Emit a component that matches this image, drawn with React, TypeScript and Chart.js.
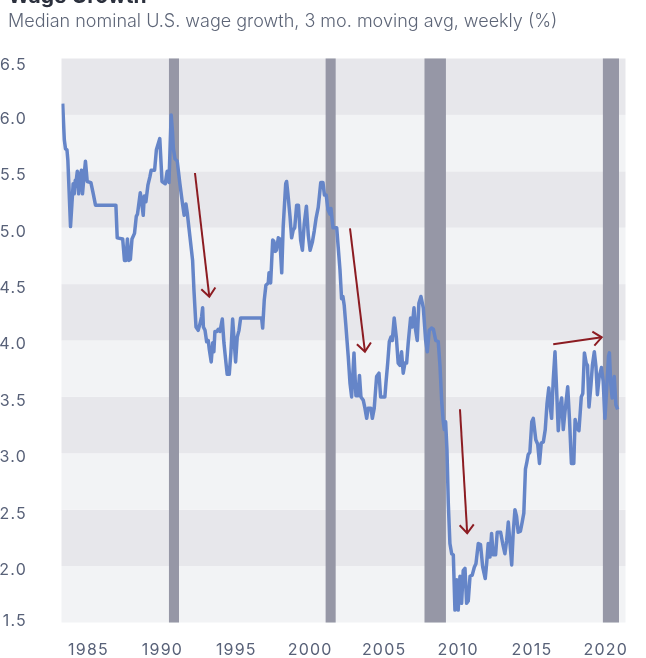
import React, { useEffect, useRef } from "react";
import { Chart, registerables } from "chart.js";

Chart.register(...registerables);

// ---------- data ----------
const years = [
  1983.25, 1983.36, 1983.44, 1983.54, 1983.6, 1983.78, 1983.96, 1984.03, 1984.1, 1984.17, 1984.24, 1984.33,
  1984.42, 1984.52, 1984.59, 1984.69, 1984.79, 1984.91, 1985.16, 1985.32, 1985.47, 1986.85, 1986.94, 1987.31,
  1987.43, 1987.53, 1987.63, 1987.73, 1987.83, 1987.94, 1988.11, 1988.23, 1988.31, 1988.5, 1988.6, 1988.7,
  1988.77, 1988.88, 1989.02, 1989.15, 1989.24, 1989.47, 1989.59, 1989.82, 1989.97, 1990.19, 1990.32, 1990.44,
  1990.59, 1990.68, 1990.74, 1990.85, 1991.0, 1991.18, 1991.37, 1991.47, 1991.59, 1991.68, 1991.86, 1992.04,
  1992.13, 1992.27, 1992.42, 1992.54, 1992.65, 1992.72, 1992.77, 1992.88, 1992.99, 1993.1, 1993.17, 1993.3,
  1993.4, 1993.48, 1993.55, 1993.69, 1993.78, 1993.89, 1994.05, 1994.16, 1994.3, 1994.38, 1994.52, 1994.63,
  1994.75, 1994.86, 1994.95, 1995.06, 1995.18, 1995.29, 1996.71, 1996.78, 1996.89, 1997.0, 1997.16, 1997.21,
  1997.32, 1997.46, 1997.54, 1997.63, 1997.71, 1997.84, 1997.94, 1998.07, 1998.17, 1998.34, 1998.4, 1998.49,
  1998.63, 1998.74, 1998.85, 1998.95, 1999.08, 1999.2, 1999.35, 1999.47, 1999.59, 1999.74, 1999.87, 1999.99,
  2000.14, 2000.27, 2000.39, 2000.54, 2000.71, 2000.86, 2000.96, 2001.08, 2001.2, 2001.33, 2001.4, 2001.54,
  2001.79, 2001.89, 2002.01, 2002.12, 2002.21, 2002.3, 2002.4, 2002.57, 2002.69, 2002.8, 2002.96, 2003.09,
  2003.23, 2003.33, 2003.43, 2003.59, 2003.7, 2003.82, 2003.92, 2004.11, 2004.2, 2004.33, 2004.49, 2004.65,
  2004.76, 2005.05, 2005.12, 2005.24, 2005.35, 2005.46, 2005.55, 2005.68, 2005.83, 2005.95, 2006.07, 2006.18,
  2006.29, 2006.41, 2006.52, 2006.63, 2006.79, 2006.9, 2007.02, 2007.13, 2007.24, 2007.35, 2007.49, 2007.65,
  2007.81, 2007.92, 2008.05, 2008.21, 2008.33, 2008.49, 2008.66, 2008.78, 2008.89, 2009.0, 2009.07, 2009.16,
  2009.25, 2009.34, 2009.45, 2009.57, 2009.68, 2009.79, 2009.91, 2010.01, 2010.13, 2010.24, 2010.35, 2010.47,
  2010.58, 2010.69, 2010.81, 2010.96, 2011.1, 2011.21, 2011.37, 2011.52, 2011.67, 2011.84, 2011.94, 2012.04,
  2012.16, 2012.27, 2012.38, 2012.54, 2012.65, 2012.88, 2013.02, 2013.17, 2013.29, 2013.4, 2013.56, 2013.63,
  2013.73, 2013.85, 2013.96, 2014.07, 2014.22, 2014.34, 2014.45, 2014.56, 2014.64, 2014.75, 2014.86, 2014.99,
  2015.09, 2015.26, 2015.39, 2015.51, 2015.63, 2015.77, 2015.9, 2016.02, 2016.14, 2016.25, 2016.33, 2016.44,
  2016.56, 2016.67, 2016.78, 2016.89, 2017.01, 2017.12, 2017.23, 2017.42, 2017.54, 2017.67, 2017.83, 2017.92,
  2018.05, 2018.18, 2018.34, 2018.44, 2018.55, 2018.67, 2018.76, 2018.86, 2018.99, 2019.09, 2019.22, 2019.33,
  2019.43, 2019.55, 2019.7, 2019.82, 2019.94, 2020.05, 2020.18, 2020.24, 2020.33, 2020.43, 2020.57, 2020.68,
  2020.8,
];

const wageGrowth = [
  6.1, 5.78, 5.7, 5.69, 5.6, 5.01, 5.39, 5.3, 5.42, 5.42, 5.5, 5.3,
  5.45, 5.51, 5.3, 5.45, 5.59, 5.41, 5.4, 5.3, 5.2, 5.2, 4.91, 4.9,
  4.71, 4.71, 4.9, 4.71, 4.72, 4.9, 4.95, 5.1, 5.12, 5.31, 5.22, 5.11,
  5.28, 5.23, 5.38, 5.45, 5.51, 5.51, 5.69, 5.79, 5.41, 5.39, 5.5, 5.4,
  6.0, 5.85, 5.7, 5.61, 5.59, 5.39, 5.2, 5.11, 5.21, 5.13, 4.92, 4.71,
  4.45, 4.12, 4.09, 4.15, 4.21, 4.29, 4.12, 4.09, 3.99, 4.0, 3.92, 3.81,
  3.98, 3.9, 4.08, 4.08, 4.1, 4.08, 4.19, 3.98, 3.8, 3.7, 3.7, 3.89,
  4.19, 3.98, 3.81, 4.03, 4.09, 4.2, 4.2, 4.11, 4.36, 4.49, 4.51, 4.6,
  4.51, 4.89, 4.88, 4.79, 4.8, 4.91, 4.9, 4.6, 5.01, 5.39, 5.41, 5.3,
  5.1, 4.91, 4.98, 5.0, 5.2, 5.2, 4.89, 4.8, 5.03, 5.19, 4.93, 4.8,
  4.87, 4.97, 5.08, 5.18, 5.4, 5.4, 5.29, 5.29, 5.16, 5.12, 5.17, 5.0,
  5.0, 4.83, 4.63, 4.37, 4.39, 4.31, 4.15, 3.86, 3.62, 3.5, 3.89, 3.51,
  3.51, 3.69, 3.5, 3.47, 3.4, 3.31, 3.4, 3.4, 3.31, 3.4, 3.68, 3.71,
  3.5, 3.5, 3.62, 3.8, 3.99, 4.03, 4.0, 4.2, 4.02, 3.8, 3.78, 3.9,
  3.71, 3.8, 3.8, 3.98, 4.2, 4.12, 4.29, 4.09, 4.0, 4.33, 4.39, 4.29,
  4.0, 3.9, 4.09, 4.11, 4.1, 4.0, 3.99, 3.77, 3.47, 3.28, 3.21, 3.28,
  3.03, 2.56, 2.2, 2.11, 2.1, 1.61, 1.88, 1.61, 1.91, 1.67, 1.96, 1.98,
  1.67, 1.69, 1.91, 1.92, 1.99, 2.02, 2.2, 2.19, 1.99, 1.89, 2.03, 2.2,
  2.08, 2.29, 2.1, 2.1, 2.3, 2.3, 2.2, 2.11, 2.23, 2.39, 2.13, 2.01,
  2.29, 2.5, 2.44, 2.3, 2.31, 2.39, 2.47, 2.86, 2.91, 2.99, 3.01, 3.28,
  3.31, 3.12, 3.08, 2.91, 3.09, 3.1, 3.21, 3.44, 3.58, 3.4, 3.31, 3.65,
  3.9, 3.56, 3.2, 3.41, 3.49, 3.21, 3.36, 3.59, 3.3, 2.91, 2.91, 3.3,
  3.22, 3.2, 3.5, 3.53, 3.89, 3.8, 3.78, 3.41, 3.6, 3.78, 3.9, 3.77,
  3.52, 3.68, 3.76, 3.64, 3.31, 3.56, 3.86, 3.89, 3.62, 3.49, 3.68, 3.43,
  3.39,
];

const recessionStart = [1990.44, 2001.04, 2007.73, 2019.8];
const recessionEnd = [1991.12, 2001.72, 2009.18, 2020.89];

const xTickYears = [1985, 1990, 1995, 2000, 2005, 2010, 2015, 2020];
const yTickValues = [1.5, 2.0, 2.5, 3.0, 3.5, 4.0, 4.5, 5.0, 5.5, 6.0, 6.5];
const yTickLabels = ["1.5", "2.0", "2.5", "3.0", "3.5", "4.0", "4.5", "5.0", "5.5", "6.0", "6.5"];

const arrowStartYear = [1992.2, 2002.69, 2010.13, 2016.44];
const arrowStartValue = [5.485, 4.995, 3.39, 3.966];
const arrowEndYear = [1993.17, 2003.7, 2010.62, 2019.72];
const arrowEndValue = [4.388, 3.901, 2.291, 4.028];

const X_MIN = 1983.17;
const X_MAX = 2021.33;

// ---------- styles ----------
const BAND_DARK = "#e7e7eb";
const BAND_LIGHT = "#f2f3f5";
const RECESSION = "#9697a6";
const LINE = "#6585c8";
const ARROW = "#8c1c22";
const TICK = "#586178";
const FONT = "Inter, 'Noto Sans', sans-serif";

const decorPlugin = {
  id: "decor",
  beforeDraw(chart: any) {
    chart.ctx.letterSpacing = "1.2px";
  },
  beforeDatasetsDraw(chart: any) {
    const { ctx, chartArea: a, scales } = chart;
    const x = scales.x;
    const y = scales.y;
    ctx.save();
    for (let i = 0; i < yTickValues.length - 1; i++) {
      const top = y.getPixelForValue(yTickValues[i + 1]);
      const bot = y.getPixelForValue(yTickValues[i]);
      ctx.fillStyle = i % 2 === 0 ? BAND_LIGHT : BAND_DARK;
      ctx.fillRect(a.left, top, a.right - a.left, bot - top);
    }
    ctx.fillStyle = RECESSION;
    for (let i = 0; i < recessionStart.length; i++) {
      const l = x.getPixelForValue(recessionStart[i]);
      const r = x.getPixelForValue(recessionEnd[i]);
      ctx.fillRect(l, a.top, r - l, a.bottom - a.top);
    }
    ctx.restore();
  },
  afterDatasetsDraw(chart: any) {
    const { ctx, scales } = chart;
    const x = scales.x;
    const y = scales.y;
    ctx.save();
    ctx.strokeStyle = ARROW;
    ctx.lineWidth = 2;
    ctx.lineCap = "butt";
    for (let i = 0; i < arrowStartYear.length; i++) {
      const x0 = x.getPixelForValue(arrowStartYear[i]);
      const y0 = y.getPixelForValue(arrowStartValue[i]);
      const x1 = x.getPixelForValue(arrowEndYear[i]);
      const y1 = y.getPixelForValue(arrowEndValue[i]);
      ctx.beginPath();
      ctx.moveTo(x0, y0);
      ctx.lineTo(x1, y1);
      ctx.stroke();
      const ang = Math.atan2(y0 - y1, x0 - x1);
      const len = 11;
      const spread = (40 * Math.PI) / 180;
      ctx.beginPath();
      ctx.moveTo(x1 + len * Math.cos(ang + spread), y1 + len * Math.sin(ang + spread));
      ctx.lineTo(x1, y1);
      ctx.lineTo(x1 + len * Math.cos(ang - spread), y1 + len * Math.sin(ang - spread));
      ctx.stroke();
    }
    ctx.restore();
  },
  afterDraw(chart: any) {
    const { ctx, scales } = chart;
    const y = scales.y;
    ctx.save();
    ctx.font = `16px ${FONT}`;
    ctx.letterSpacing = "1.2px";
    ctx.fillStyle = TICK;
    ctx.textAlign = "right";
    ctx.textBaseline = "middle";
    const last = yTickValues.length - 1;
    yTickValues.forEach((v, i) => {
      let off = 4;
      if (i === last) off = 7;
      if (i === 0) off = -1;
      ctx.fillText(yTickLabels[i], 27, y.getPixelForValue(v) + off);
    });
    ctx.restore();
  },
};

export default function App() {
  const ref = useRef<HTMLCanvasElement | null>(null);

  useEffect(() => {
    if (!ref.current) return;
    const data = years.map((yr, i) => ({ x: yr, y: wageGrowth[i] }));
    const chart = new Chart(ref.current, {
      type: "line",
      data: {
        datasets: [
          {
            data,
            borderColor: LINE,
            borderWidth: 3.5,
            pointRadius: 0,
            tension: 0,
            borderJoinStyle: "round",
            fill: false,
          },
        ],
      },
      options: {
        animation: false,
        responsive: false,
        devicePixelRatio: 1,
        layout: { padding: { top: 58.5, right: 20.5, left: 0, bottom: 0 } },
        plugins: { legend: { display: false }, tooltip: { enabled: false }, title: { display: false } },
        scales: {
          x: {
            type: "linear",
            min: X_MIN,
            max: X_MAX,
            grid: { display: false },
            border: { display: false },
            afterBuildTicks: (s: any) => {
              s.ticks = xTickYears.map((v) => ({ value: v }));
            },
            afterFit: (s: any) => {
              s.height = 35.5;
            },
            ticks: {
              autoSkip: false,
              maxRotation: 0,
              padding: 10,
              color: TICK,
              font: { family: FONT, size: 16 },
              callback: (v: any) => String(v),
            },
          },
          y: {
            type: "linear",
            min: 1.5,
            max: 6.5,
            grid: { display: false },
            border: { display: false },
            ticks: { display: false },
            afterFit: (s: any) => {
              s.width = 61.5;
            },
          },
        },
      },
      plugins: [decorPlugin],
    } as any);
    return () => chart.destroy();
  }, []);

  return (
    <div style={{ position: "absolute", left: 0, top: 0, width: 646, height: 658, overflow: "hidden", background: "#fff" }}>
      <canvas ref={ref} width={646} height={658} style={{ position: "absolute", left: 0, top: 0, display: "block" }} />
      <div
        style={{
          position: "absolute",
          left: 8,
          top: -15,
          font: `bold 21px ${FONT}`,
          lineHeight: "21px",
          color: "#2b303d",
          whiteSpace: "nowrap",
        }}
      >
        Wage Growth
      </div>
      <div
        style={{
          position: "absolute",
          left: 8,
          top: 10,
          font: `300 18px ${FONT}`,
          lineHeight: "22px",
          color: "#5d6577",
          whiteSpace: "nowrap",
        }}
      >
        Median nominal U.S. wage growth, 3 mo. moving avg, weekly (%)
      </div>
    </div>
  );
}
